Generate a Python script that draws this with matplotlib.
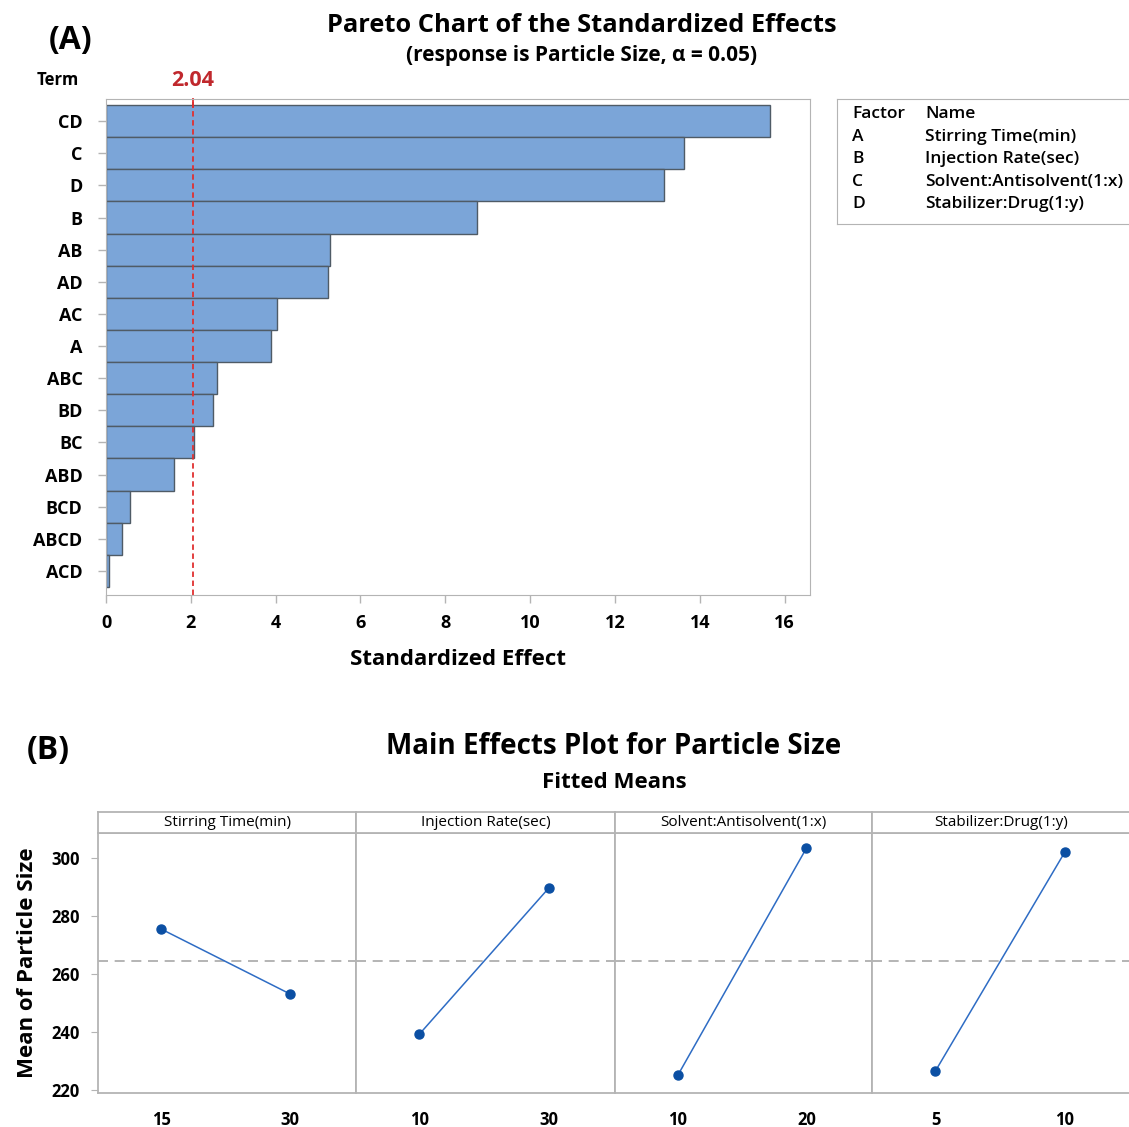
import matplotlib
matplotlib.use('Agg')
import matplotlib.pyplot as plt

plt.rcParams['font.family'] = ['Open Sans', 'DejaVu Sans']

# Pareto chart data (standardized effects, sorted largest first)
terms = ['CD', 'C', 'D', 'B', 'AB', 'AD', 'AC', 'A', 'ABC', 'BD', 'BC', 'ABD', 'BCD', 'ABCD', 'ACD']
effects = [15.66, 13.63, 13.16, 8.75, 5.28, 5.24, 4.03, 3.89, 2.62, 2.52, 2.08, 1.60, 0.57, 0.38, 0.07]
critical = 2.04

factor_codes = ['A', 'B', 'C', 'D']
factor_names = ['Stirring Time(min)', 'Injection Rate(sec)', 'Solvent:Antisolvent(1:x)', 'Stabilizer:Drug(1:y)']

# Main effects data: level labels and fitted means for each factor
levels = [['15', '30'], ['10', '30'], ['10', '20'], ['5', '10']]
means = [[275.5, 253.1], [239.3, 289.7], [225.2, 303.4], [226.6, 302.1]]
grand_mean = 264.4

W, H = 1129, 1127
fig = plt.figure(figsize=(W / 100, H / 100), dpi=100)

def box(l, t, r, b):
    return [l / W, 1 - b / H, (r - l) / W, (b - t) / H]

grey = '#b4b4b4'

# ---- (A) Pareto chart ----
ax = fig.add_axes(box(106, 99, 810, 595))
y = list(range(len(terms)))
ax.barh(y, effects, height=1.0, color='#7ba5d8', edgecolor='#4f5b66', linewidth=1.0)
ax.axvline(critical, color='#e03030', linestyle=(0, (3, 2)), linewidth=1.3)
ax.set_ylim(len(terms) - 0.25, -0.69)
ax.set_xlim(0, 16.6)
ax.set_yticks(y)
ax.set_yticklabels(terms, fontsize=13, fontweight='bold')
ax.set_xticks(range(0, 17, 2))
ax.set_xticklabels([str(v) for v in range(0, 17, 2)], fontsize=13, fontweight='bold')
ax.tick_params(color=grey, length=6, width=1)
ax.tick_params(axis='y', pad=11)
ax.tick_params(axis='x', pad=8)
for s in ax.spines.values():
    s.set_color(grey)
ax.set_xlabel('Standardized Effect', fontsize=16, fontweight='bold', labelpad=12)
ax.text(critical, -0.95, f'{critical:.2f}', color='#c0282d', fontsize=15.5, fontweight='bold',
        ha='center', va='bottom', transform=ax.transData, clip_on=False)
ax.plot([critical, critical], [-0.69, -0.45], color='#e03030', linewidth=1.3, clip_on=False)

fig.text(58 / W, 1 - 80 / H, 'Term', fontsize=12, fontweight='bold', ha='center', va='center')
fig.text(71 / W, 1 - 40 / H, '(A)', fontsize=23, fontweight='bold', ha='center', va='center')
fig.text(582 / W, 1 - 25 / H, 'Pareto Chart of the Standardized Effects', fontsize=18.3,
         fontweight='bold', ha='center', va='center')
fig.text(582 / W, 1 - 55 / H, '(response is Particle Size, \u03b1 = 0.05)', fontsize=15,
         fontweight='bold', ha='center', va='center')

# factor key box
lg = fig.add_axes(box(837, 99, 1135, 224))
lg.set_xticks([])
lg.set_yticks([])
for s in lg.spines.values():
    s.set_color(grey)
lg.set_xlim(837, 1135)
lg.set_ylim(224, 99)
lg.text(852, 114, 'Factor', fontsize=12.5, fontweight='semibold', va='center')
lg.text(925, 114, 'Name', fontsize=12.5, fontweight='semibold', va='center')
for i, (c, n) in enumerate(zip(factor_codes, factor_names)):
    yy = 137 + i * 22.5
    lg.text(852, yy, c, fontsize=12.5, fontweight='semibold', va='center')
    lg.text(925, yy, n, fontsize=12.5, fontweight='semibold', va='center')

# ---- (B) Main effects plot ----
fig.text(48 / W, 1 - 750 / H, '(B)', fontsize=23, fontweight='bold', ha='center', va='center')
fig.text(614 / W, 1 - 747 / H, 'Main Effects Plot for Particle Size', fontsize=20,
         fontweight='bold', ha='center', va='center')
fig.text(614 / W, 1 - 782 / H, 'Fitted Means', fontsize=16, fontweight='bold',
         ha='center', va='center')

edges = [98, 356, 615, 872, 1131]
for i in range(4):
    l, r = edges[i], edges[i + 1]
    a = fig.add_axes(box(l, 833, r, 1093))
    a.axhline(grand_mean, color='#a8a8a8', linestyle=(0, (6, 4)), linewidth=1.2, zorder=1)
    a.plot([0, 1], means[i], color='#2e6cc4', linewidth=1.1, marker='o', markersize=6.5,
           markerfacecolor='#0b4fa3', markeredgecolor='#0b4fa3', zorder=3)
    a.set_xlim(-0.49, 1.51)
    a.set_ylim(219, 308.6)
    a.set_xticks([0, 1])
    a.set_xticklabels(levels[i], fontsize=12, fontweight='bold')
    a.tick_params(axis='x', length=0, pad=13)
    for s in a.spines.values():
        s.set_color(grey)
        s.set_linewidth(1.3)
    if i == 0:
        a.set_yticks([220, 240, 260, 280, 300])
        a.set_yticklabels(['220', '240', '260', '280', '300'], fontsize=12, fontweight='bold')
        a.tick_params(axis='y', color=grey, length=5, pad=8)
        a.set_ylabel('Mean of Particle Size', fontsize=16, fontweight='bold', labelpad=10)
    else:
        a.set_yticks([])
    # panel header strip
    st = fig.add_axes(box(l, 812, r, 833))
    st.set_xticks([])
    st.set_yticks([])
    for s in st.spines.values():
        s.set_color(grey)
        s.set_linewidth(1.3)
    st.text(0.5, 0.5, factor_names[i], fontsize=11, ha='center', va='center',
            transform=st.transAxes)

fig.savefig('out.png', dpi=100)
